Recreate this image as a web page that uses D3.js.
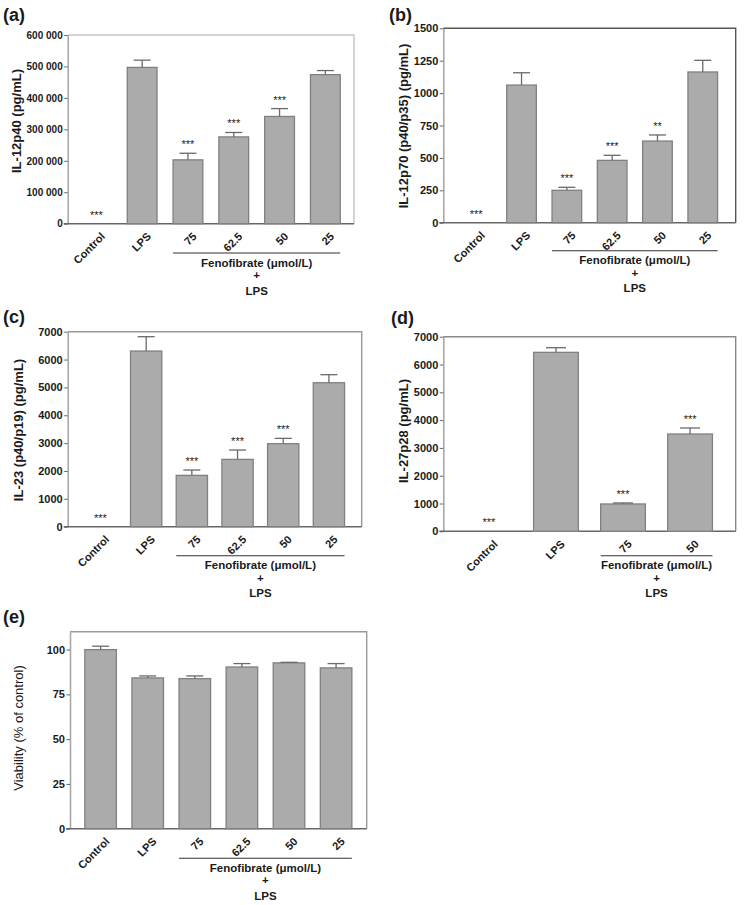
<!DOCTYPE html>
<html>
<head>
<meta charset="utf-8">
<script src="https://cdn.jsdelivr.net/npm/d3@7"></script>
<style>
  html, body { margin: 0; padding: 0; background: #fff; }
  svg { display: block; }
  text { font-family: "Liberation Sans", Arial, Helvetica, sans-serif; fill: #1a1a1a; }
</style>
</head>
<body>
<svg id="chart" width="750" height="905"></svg>
<script>
// ---------- DATA ----------
const catsSix = ["Control", "LPS", "75", "62.5", "50", "25"];
const catsFour = ["Control", "LPS", "75", "50"];
const fenofibrateSix = ["75", "62.5", "50", "25"];
const fenofibrateFour = ["75", "50"];

// (a) IL-12p40
const valsA = [0, 497000, 203000, 276000, 341000, 474000];
const semA = [0, 23000, 21000, 14000, 25000, 13000];
const starsA = ["***", "", "***", "***", "***", ""];
const ticksA = [0, 100000, 200000, 300000, 400000, 500000, 600000];

// (b) IL-12p70
const valsB = [0, 1062, 250, 481, 630, 1163];
const semB = [0, 95, 23, 39, 47, 90];
const starsB = ["***", "", "***", "***", "**", ""];
const ticksB = [0, 250, 500, 750, 1000, 1250, 1500];

// (c) IL-23
const valsC = [0, 6306, 1843, 2417, 2980, 5169];
const semC = [0, 515, 191, 335, 191, 288];
const starsC = ["***", "", "***", "***", "***", ""];
const ticksC = [0, 1000, 2000, 3000, 4000, 5000, 6000, 7000];

// (d) IL-27p28
const valsD = [0, 6437, 983, 3500];
const semD = [0, 167, 36, 216];
const starsD = ["***", "", "***", "***"];
const ticksD = [0, 1000, 2000, 3000, 4000, 5000, 6000, 7000];

// (e) Viability
const valsE = [100, 84.2, 83.8, 90.3, 92.6, 89.8];
const semE = [1.9, 1.1, 1.5, 1.9, 0.3, 2.4];
const starsE = ["", "", "", "", "", ""];
const ticksE = [0, 25, 50, 75, 100];

const svg = d3.select("#chart");
const spaceFmt = d3.formatLocale({ decimal: ".", thousands: " ", grouping: [3], currency: ["", ""] }).format(",d");
const plainFmt = d3.format("d");

function panel(cfg) {
  const g = svg.append("g");
  const x = d3.scaleBand().domain(cfg.cats).range([cfg.x0, cfg.x1])
    .paddingInner(cfg.pi).paddingOuter(cfg.po);
  const y = d3.scaleLinear().domain([0, cfg.ymax]).range([cfg.yBase, cfg.yTop]);

  // frame (top + right)
  g.append("path")
    .attr("d", `M${cfg.x0},${y(cfg.ymax)}H${cfg.x1}V${cfg.yBase}`)
    .attr("fill", "none").attr("stroke", cfg.frameColor).attr("stroke-width", 1.4);

  // left axis
  const ax = g.append("g").attr("transform", `translate(${cfg.x0},0)`)
    .call(d3.axisLeft(y).tickValues(cfg.ticks).tickSize(3.5).tickSizeOuter(0).tickPadding(1.5).tickFormat(cfg.fmt));
  ax.select(".domain").attr("stroke", "#a8a8a8").attr("stroke-width", 1.6);
  ax.selectAll(".tick line").attr("stroke", "#666");
  ax.selectAll(".tick text").style("font-size", cfg.tickSize).style("font-weight", "bold").attr("fill", "#1a1a1a");

  // bottom axis line
  g.append("line").attr("x1", cfg.x0 - 4).attr("x2", cfg.x1).attr("y1", cfg.yBase).attr("y2", cfg.yBase)
    .attr("stroke", "#666").attr("stroke-width", 1.4);

  const data = cfg.cats.map((c, i) => ({ c, v: cfg.vals[i], e: cfg.sem[i], s: cfg.stars[i] }));

  // bars
  g.selectAll("rect.bar").data(data.filter(d => d.v > 0)).join("rect")
    .attr("class", "bar")
    .attr("x", d => x(d.c)).attr("width", x.bandwidth())
    .attr("y", d => y(d.v)).attr("height", d => y(0) - y(d.v))
    .attr("fill", "#ababab").attr("stroke", "#808080").attr("stroke-width", 1.3);

  // error bars (upper)
  const eg = g.selectAll("g.err").data(data.filter(d => d.e > 0)).join("g").attr("class", "err");
  eg.append("line")
    .attr("x1", d => x(d.c) + x.bandwidth() / 2).attr("x2", d => x(d.c) + x.bandwidth() / 2)
    .attr("y1", d => y(d.v)).attr("y2", d => y(d.v + d.e))
    .attr("stroke", "#6a6a6a").attr("stroke-width", 1.3);
  eg.append("line")
    .attr("x1", d => x(d.c) + x.bandwidth() / 2 - cfg.cap).attr("x2", d => x(d.c) + x.bandwidth() / 2 + cfg.cap)
    .attr("y1", d => y(d.v + d.e)).attr("y2", d => y(d.v + d.e))
    .attr("stroke", "#6a6a6a").attr("stroke-width", 1.3);

  // significance stars
  g.selectAll("text.star").data(data.filter(d => d.s)).join("text")
    .attr("class", "star")
    .attr("x", d => x(d.c) + x.bandwidth() / 2)
    .attr("y", d => y(d.v + d.e) - 5)
    .attr("text-anchor", "middle")
    .style("font-size", "11px")
    .text(d => d.s);

  // rotated category labels
  g.selectAll("text.cat").data(cfg.cats).join("text")
    .attr("class", "cat")
    .attr("transform", c => `translate(${x(c) + x.bandwidth() / 2 + 4},${cfg.yBase + 8}) rotate(-45)`)
    .attr("text-anchor", "end").attr("dy", "0.7em")
    .style("font-size", "11px").style("font-weight", "bold")
    .text(c => c);

  // fenofibrate group
  const gx0 = x(cfg.group[0]);
  const gx1 = x(cfg.group[cfg.group.length - 1]) + x.bandwidth();
  const ly = cfg.yBase + cfg.lineOff;
  g.append("line").attr("x1", gx0).attr("x2", gx1).attr("y1", ly).attr("y2", ly)
    .attr("stroke", "#333").attr("stroke-width", 1.1);
  const gm = (gx0 + gx1) / 2;
  [["Fenofibrate (μmol/L)", 13.5], ["+", 26], ["LPS", 41.5]].forEach(([t, dy]) => {
    g.append("text").attr("x", gm).attr("y", ly + dy).attr("text-anchor", "middle")
      .style("font-size", "11.5px").style("font-weight", "bold").text(t);
  });

  // y label
  g.append("text")
    .attr("transform", `translate(${cfg.ylx},${cfg.yly}) rotate(-90)`)
    .attr("text-anchor", "middle")
    .style("font-size", "13px").style("font-weight", cfg.ylWeight)
    .text(cfg.ylabel);

  // panel letter
  g.append("text").attr("x", cfg.px).attr("y", cfg.py)
    .style("font-size", "18px").style("font-weight", "bold").text(cfg.letter);
}

panel({ cats: catsSix, vals: valsA, sem: semA, stars: starsA, ticks: ticksA, ymax: 600000, fmt: spaceFmt, tickSize: "10px",
  x0: 67.7, x1: 354, yBase: 223.7, yTop: 35, pi: 0.35, po: 0.3, cap: 8.5, frameColor: "#c4c4c4",
  group: fenofibrateSix, lineOff: 29.3, ylabel: "IL-12p40 (pg/mL)", ylx: 21, yly: 121, ylWeight: "bold",
  letter: "(a)", px: 3, py: 21 });

panel({ cats: catsSix, vals: valsB, sem: semB, stars: starsB, ticks: ticksB, ymax: 1500, fmt: plainFmt, tickSize: "11px",
  x0: 443.3, x1: 735.7, yBase: 222.7, yTop: 28.3, pi: 0.346, po: 0.4, cap: 8.5, frameColor: "#555",
  group: fenofibrateSix, lineOff: 28, ylabel: "IL-12p70 (p40/p35) (pg/mL)", ylx: 408, yly: 126, ylWeight: "bold",
  letter: "(b)", px: 389, py: 21 });

panel({ cats: catsSix, vals: valsC, sem: semC, stars: starsC, ticks: ticksC, ymax: 7000, fmt: plainFmt, tickSize: "11px",
  x0: 67.7, x1: 361.7, yBase: 526.7, yTop: 331.7, pi: 0.315, po: 0.375, cap: 8.5, frameColor: "#9a9a9a",
  group: fenofibrateSix, lineOff: 29, ylabel: "IL-23 (p40/p19) (pg/mL)", ylx: 23, yly: 430, ylWeight: "bold",
  letter: "(c)", px: 3, py: 323 });

panel({ cats: catsFour, vals: valsD, sem: semD, stars: starsD, ticks: ticksD, ymax: 7000, fmt: plainFmt, tickSize: "11px",
  x0: 443.3, x1: 735.7, yBase: 531.3, yTop: 336.7, pi: 0.333, po: 0.347, cap: 10, frameColor: "#8a8a8a",
  group: fenofibrateFour, lineOff: 24.4, ylabel: "IL-27p28 (pg/mL)", ylx: 408, yly: 431, ylWeight: "bold",
  letter: "(d)", px: 391, py: 324 });

panel({ cats: catsSix, vals: valsE, sem: semE, stars: starsE, ticks: ticksE, ymax: 110, fmt: plainFmt, tickSize: "11px",
  x0: 70, x1: 366.7, yBase: 828.7, yTop: 631.7, pi: 0.33, po: 0.315, cap: 8.5, frameColor: "#9a9a9a",
  group: fenofibrateSix, lineOff: 29.6, ylabel: "Viability (% of control)", ylx: 23, yly: 728, ylWeight: "normal",
  letter: "(e)", px: 3, py: 623 });
</script>
</body>
</html>
